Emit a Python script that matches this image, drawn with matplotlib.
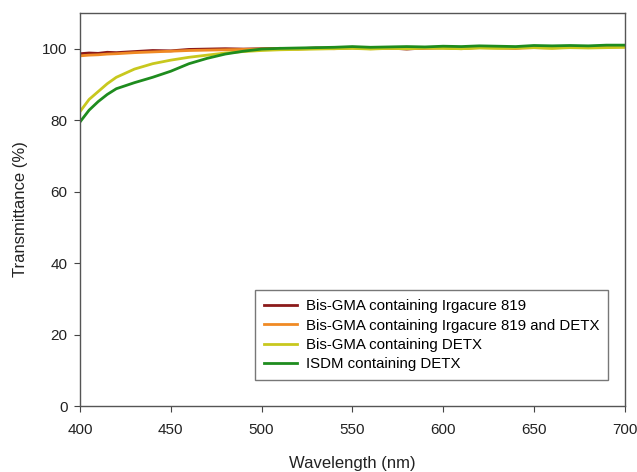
import matplotlib
matplotlib.use("Agg")
import matplotlib.pyplot as plt

plt.rcParams['font.family'] = ['Liberation Sans', 'DejaVu Sans']

wavelength = [400, 405, 410, 415, 420, 430, 440, 450, 460, 470, 480, 490, 500, 510, 520, 530, 540,
              550, 560, 570, 580, 590, 600, 610, 620, 630, 640, 650, 660, 670, 680, 690, 700]

irg819 = [98.6, 98.8, 98.7, 99.0, 98.9, 99.2, 99.5, 99.4, 99.8, 99.9, 100.0, 99.9, 100.0, 100.1, 100.0, 100.2, 100.1,
          100.3, 100.1, 100.2, 99.9, 100.2, 100.3, 100.1, 100.4, 100.3, 100.2, 100.5, 100.3, 100.6, 100.4, 100.6, 100.7]
irg819_detx = [98.0, 98.2, 98.3, 98.5, 98.6, 98.9, 99.1, 99.3, 99.5, 99.6, 99.7, 99.8, 99.9, 100.0, 99.9, 100.1, 100.0,
               100.2, 100.0, 100.1, 100.0, 100.1, 100.2, 100.0, 100.3, 100.2, 100.1, 100.3, 100.2, 100.4, 100.3, 100.4, 100.5]
bis_detx = [82.4, 85.8, 88.0, 90.2, 92.0, 94.3, 95.8, 96.8, 97.6, 98.2, 98.8, 99.2, 99.5, 99.7, 99.8, 99.9, 100.0,
            100.1, 99.9, 100.1, 100.0, 100.2, 100.1, 100.0, 100.2, 100.1, 100.2, 100.3, 100.1, 100.3, 100.2, 100.3, 100.4]
isdm_detx = [79.5, 82.8, 85.2, 87.2, 88.8, 90.5, 92.0, 93.7, 95.8, 97.3, 98.5, 99.3, 99.9, 100.1, 100.2, 100.3, 100.4,
             100.6, 100.4, 100.5, 100.6, 100.5, 100.7, 100.6, 100.8, 100.7, 100.6, 100.9, 100.8, 100.9, 100.8, 101.0, 101.0]

labels = ["Bis-GMA containing Irgacure 819",
          "Bis-GMA containing Irgacure 819 and DETX",
          "Bis-GMA containing DETX",
          "ISDM containing DETX"]
colors = ["#8b1a1a", "#f08a24", "#c8c81e", "#1e8c1e"]

fig = plt.figure(figsize=(6.37, 4.72), dpi=100)
ax = fig.add_axes([0.1256, 0.1398, 0.855, 0.8327])

for ys, lab, c in zip([irg819, irg819_detx, bis_detx, isdm_detx], labels, colors):
    ax.plot(wavelength, ys, color=c, lw=2.0, label=lab)

ax.set_xlim(400, 700)
ax.set_ylim(0, 110)
ax.set_xticks([400, 450, 500, 550, 600, 650, 700])
ax.set_yticks([0, 20, 40, 60, 80, 100])
ax.tick_params(direction='out', length=4, labelsize=11, colors='#444444', labelcolor='#222222')
ax.tick_params(axis='x', pad=8)
ax.tick_params(axis='y', pad=5)
for s in ax.spines.values():
    s.set_color('#555555')
    s.set_linewidth(1.0)
ax.set_xlabel("Wavelength (nm)", fontsize=12, labelpad=14, color='#222222')
ax.set_ylabel("Transmittance (%)", fontsize=12, labelpad=10, color='#222222')

leg = ax.legend(loc='lower right', bbox_to_anchor=(0.97, 0.066), fontsize=10.8, frameon=True,
                fancybox=False, edgecolor='#555555', handlelength=2.2, borderpad=0.6, labelspacing=0.35,
                handletextpad=0.6, borderaxespad=0)
leg.get_frame().set_linewidth(1.0)

fig.savefig("out.png", dpi=100)
